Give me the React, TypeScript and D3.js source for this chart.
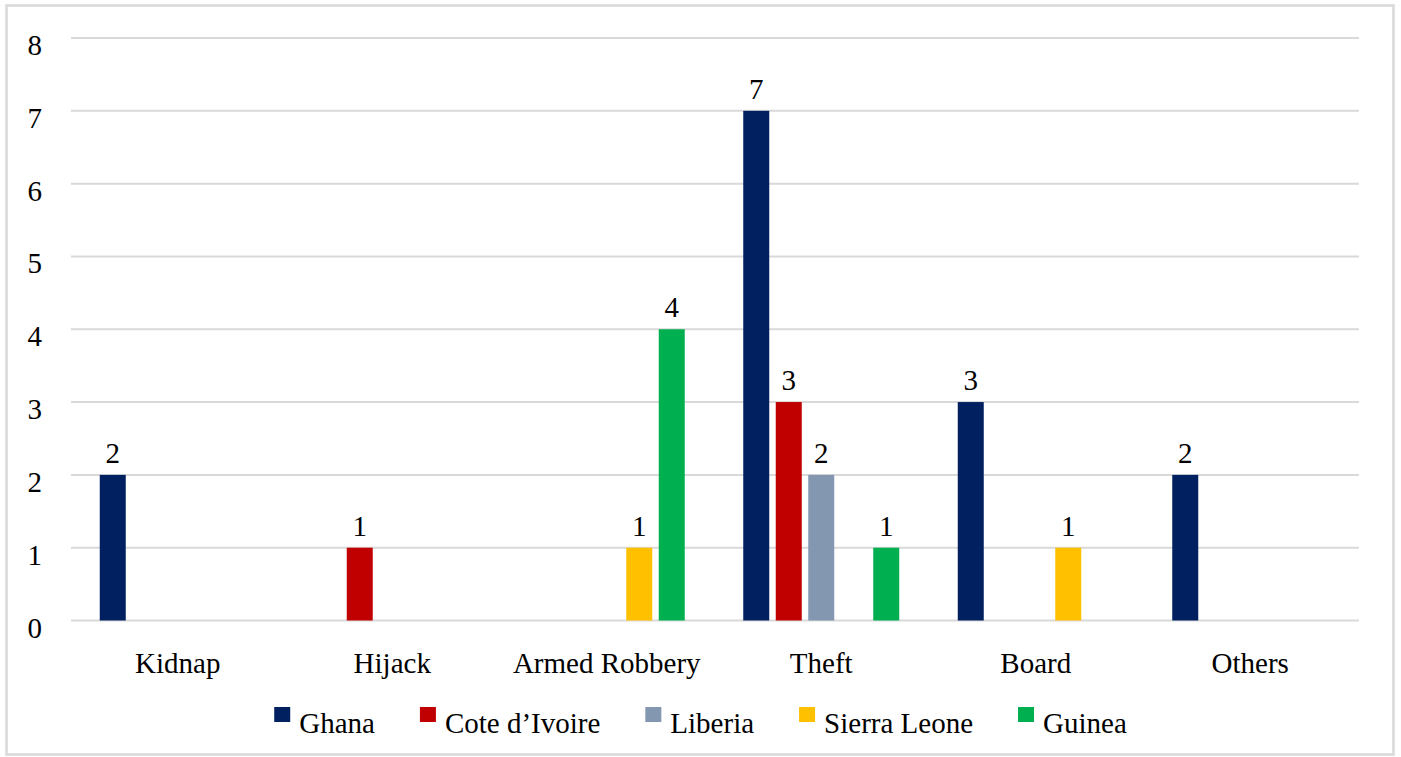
import React, { useEffect, useRef } from 'react';
import * as d3 from 'd3';

const categories = ['Kidnap', 'Hijack', 'Armed Robbery', 'Theft', 'Board', 'Others'];
const seriesNames = ['Ghana', 'Cote d\u2019Ivoire', 'Liberia', 'Sierra Leone', 'Guinea'];
const seriesColors = ['#002060', '#C00000', '#8497B0', '#FFC000', '#00B050'];

// values per category, in the order of seriesNames
const ghana = [2, 0, 0, 7, 3, 2];
const coteDIvoire = [0, 1, 0, 3, 0, 0];
const liberia = [0, 0, 0, 2, 0, 0];
const sierraLeone = [0, 0, 1, 0, 1, 0];
const guinea = [0, 0, 4, 1, 0, 0];

const yTicks = [0, 1, 2, 3, 4, 5, 6, 7, 8];

const FONT = '"Liberation Serif", "Times New Roman", serif';
const FS = 29;

const App: React.FC = () => {
  const svgRef = useRef<SVGSVGElement>(null);

  useEffect(() => {
    if (!svgRef.current) return;
    const svg = d3.select(svgRef.current);
    svg.selectAll('*').remove();

    const width = 1401;
    const height = 757;
    const allSeries = [ghana, coteDIvoire, liberia, sierraLeone, guinea];

    // outer border
    svg.append('rect')
      .attr('x', 6.5)
      .attr('y', 5.5)
      .attr('width', 1387)
      .attr('height', 749)
      .attr('fill', '#ffffff')
      .attr('stroke', '#D9D9D9')
      .attr('stroke-width', 2.5);

    const x0 = d3.scaleBand<string>()
      .domain(categories)
      .range([70.5, 1357.5])
      .paddingInner(0)
      .paddingOuter(0);

    const x1 = d3.scaleBand<string>()
      .domain(seriesNames)
      .range([0, x0.bandwidth()])
      .paddingInner(0.2)
      .paddingOuter(0.9);

    const y = d3.scaleLinear().domain([0, 8]).range([620.5, 38]);

    // gridlines
    svg.append('g')
      .selectAll('line')
      .data(yTicks)
      .join('line')
      .attr('x1', 71)
      .attr('x2', 1359)
      .attr('y1', d => y(d))
      .attr('y2', d => y(d))
      .attr('stroke', '#D9D9D9')
      .attr('stroke-width', 2);

    // y tick labels
    svg.append('g')
      .selectAll('text')
      .data(yTicks)
      .join('text')
      .attr('x', 42)
      .attr('y', d => y(d) + 17)
      .attr('text-anchor', 'end')
      .attr('font-family', FONT)
      .attr('font-size', FS)
      .attr('fill', '#000')
      .text(d => d);

    // bars
    const barData = categories.flatMap((c, ci) =>
      seriesNames.map((s, si) => ({ cat: c, series: s, value: allSeries[si][ci], color: seriesColors[si] }))
    ).filter(d => d.value > 0);

    const bars = svg.append('g');
    bars.selectAll('rect')
      .data(barData)
      .join('rect')
      .attr('x', d => (x0(d.cat) as number) + (x1(d.series) as number))
      .attr('y', d => y(d.value))
      .attr('width', x1.bandwidth())
      .attr('height', d => y(0) - y(d.value))
      .attr('fill', d => d.color);

    // data labels
    bars.selectAll('text')
      .data(barData)
      .join('text')
      .attr('x', d => (x0(d.cat) as number) + (x1(d.series) as number) + x1.bandwidth() / 2)
      .attr('y', d => y(d.value) - 12)
      .attr('text-anchor', 'middle')
      .attr('font-family', FONT)
      .attr('font-size', FS)
      .attr('fill', '#000')
      .text(d => d.value);

    // category labels
    svg.append('g')
      .selectAll('text')
      .data(categories)
      .join('text')
      .attr('x', d => (x0(d) as number) + x0.bandwidth() / 2)
      .attr('y', 673)
      .attr('text-anchor', 'middle')
      .attr('font-family', FONT)
      .attr('font-size', FS)
      .attr('fill', '#000')
      .text(d => d);

    // legend
    const legend = svg.append('g');
    const items = legend.selectAll('g')
      .data(seriesNames)
      .join('g');
    items.append('rect')
      .attr('x', 0)
      .attr('y', 707)
      .attr('width', 16)
      .attr('height', 15)
      .attr('fill', (d, i) => seriesColors[i]);
    const labels = items.append('text')
      .attr('x', 25)
      .attr('y', 733)
      .attr('font-family', FONT)
      .attr('font-size', FS)
      .attr('fill', '#000')
      .text(d => d);

    const widths: number[] = [];
    labels.each(function () {
      widths.push(25 + (this as SVGTextElement).getComputedTextLength());
    });
    const gap = 45;
    const total = d3.sum(widths) + gap * (widths.length - 1);
    let cursor = width / 2 - total / 2;
    const offsets = widths.map(w => {
      const o = cursor;
      cursor += w + gap;
      return o;
    });
    items.attr('transform', (d, i) => `translate(${offsets[i]},0)`);

    svg.attr('width', width).attr('height', height);
  }, []);

  return (
    <svg
      ref={svgRef}
      width={1401}
      height={757}
      style={{ position: 'absolute', left: 0, top: 0, display: 'block', background: '#fff' }}
    />
  );
};

export default App;
